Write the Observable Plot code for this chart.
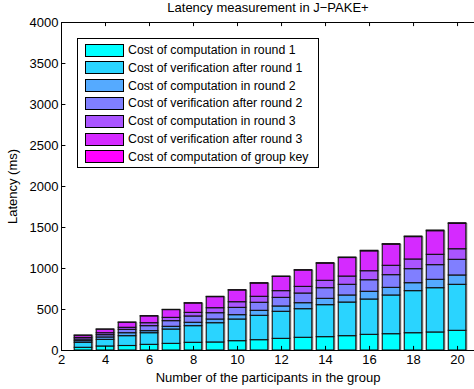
<!DOCTYPE html>
<html><head><meta charset="utf-8">
<script src="https://cdn.jsdelivr.net/npm/d3@7"></script>
<script src="https://cdn.jsdelivr.net/npm/@observablehq/plot@0.6"></script>
<style>
body{margin:0;overflow:hidden;background:#fff;font-family:"Liberation Sans",Arial,Helvetica,sans-serif;}
#wrap{position:relative;width:474px;height:389px;}
#legend{position:absolute;left:77px;top:38px;width:240px;height:128px;border:1px solid #000;background:#fff;font-size:12.3px;color:#000;}
.row{position:absolute;left:7px;height:14px;display:flex;align-items:center;white-space:nowrap;}
.sw{width:37px;height:11px;border:1px solid #000;margin-right:4px;flex:none;}
</style></head>
<body>
<div id="wrap"></div>
<script>
const title = "Latency measurement in J\u2212PAKE+";
const xLabel = "Number of the participants in the group";
const yLabel = "Latency (ms)";
const participants = [3,4,5,6,7,8,9,10,11,12,13,14,15,16,17,18,19,20];
const seriesNames = [
  "Cost of computation in round 1",
  "Cost of verification after round 1",
  "Cost of computation in round 2",
  "Cost of verification after round 2",
  "Cost of computation in round 3",
  "Cost of verification after round 3",
  "Cost of computation of group key"
];
const seriesColors = ["#00ffff","#2ad4ff","#55aaff","#807fff","#aa55ff","#d52aff","#ff00ff"];
const compR1   = [33,49,55,69,81,94,98,114,126,142,155,163,175,191,199,211,220,240];
const verR1    = [61,81,120,142,175,203,235,264,297,330,349,390,410,431,472,513,540,561];
const compR2   = [20,29,36,25,33,41,45,53,61,65,73,77,86,94,93,97,102,114];
const verR2    = [20,28,41,61,69,77,77,89,98,105,118,130,130,141,155,171,179,191];
const compR3   = [20,24,25,36,40,44,61,69,73,82,81,90,101,110,114,118,126,129];
const verR3    = [26,43,61,83,95,114,135,143,161,173,199,209,226,242,257,273,288,309];
const groupKey = [2,2,3,3,3,4,4,4,5,5,5,6,6,7,7,7,8,8];
const xTicks = [2,4,6,8,10,12,14,16,18,20];
const yTicks = [0,500,1000,1500,2000,2500,3000,3500,4000];

const seriesValues = [compR1, verR1, compR2, verR2, compR3, verR3, groupKey];
const data = [];
seriesValues.forEach((vals, s) => vals.forEach((v, i) => data.push({n: participants[i], series: seriesNames[s], value: v})));
const totals = participants.map((n, i) => ({n, total: seriesValues.reduce((a, vals) => a + vals[i], 0)}));

const halfW = 0.4;
const chart = Plot.plot({
  width: 474, height: 389,
  marginLeft: 61, marginRight: 0, marginTop: 22, marginBottom: 39,
  style: {fontFamily: "'Liberation Sans', Arial, sans-serif", fontSize: "13px", background: "#fff", color: "#000"},
  x: {domain: [2, 20.77]},
  y: {domain: [0, 4000]},
  color: {domain: seriesNames, range: seriesColors},
  marks: [
    Plot.rectY(totals, {x1: d => d.n - halfW, x2: d => d.n + halfW, y: "total", fill: "#9a9a9a", dx: 1.5, dy: 0.5}),
    Plot.rectY(data, {x1: d => d.n - halfW, x2: d => d.n + halfW, y: "value", fill: "series", stroke: "#111", strokeWidth: 1.1}),
    Plot.ruleY([0], {stroke: "#000", strokeWidth: 1.2}),
    Plot.ruleY([4000], {stroke: "#000", strokeWidth: 1}),
    Plot.ruleX([2], {y1: 0, y2: 4000, stroke: "#000", strokeWidth: 1}),
    Plot.ruleY(yTicks, {y: d => d, x1: 2, x2: 2.2, stroke: "#000"}),
    Plot.ruleX(xTicks, {x: d => d, y1: 4000, y2: 3950, stroke: "#000"}),
    Plot.ruleX(xTicks, {x: d => d, y1: 0, y2: 50, stroke: "#000"}),
    Plot.axisX(xTicks, {tickSize: 0, tickPadding: 4, fontSize: 13, label: xLabel, labelAnchor: "center", labelArrow: "none", labelOffset: 31, tickFormat: d => String(d)}),
    Plot.axisY(yTicks, {tickSize: 0, tickPadding: 3, fontSize: 13, label: yLabel, labelAnchor: "center", labelArrow: "none", labelOffset: 54, tickFormat: d => String(d)}),
    Plot.text([title], {frameAnchor: "top", dy: -15, fontSize: 13, lineAnchor: "middle"})
  ]
});
const wrap = document.getElementById("wrap");
wrap.appendChild(chart);

const legend = document.createElement("div");
legend.id = "legend";
seriesNames.forEach((name, i) => {
  const row = document.createElement("div");
  row.className = "row";
  row.style.top = (4 + i * 17.8) + "px";
  const sw = document.createElement("div");
  sw.className = "sw";
  sw.style.background = seriesColors[i];
  const t = document.createElement("span");
  t.textContent = name;
  row.appendChild(sw); row.appendChild(t);
  legend.appendChild(row);
});
wrap.appendChild(legend);
</script>
</body></html>
